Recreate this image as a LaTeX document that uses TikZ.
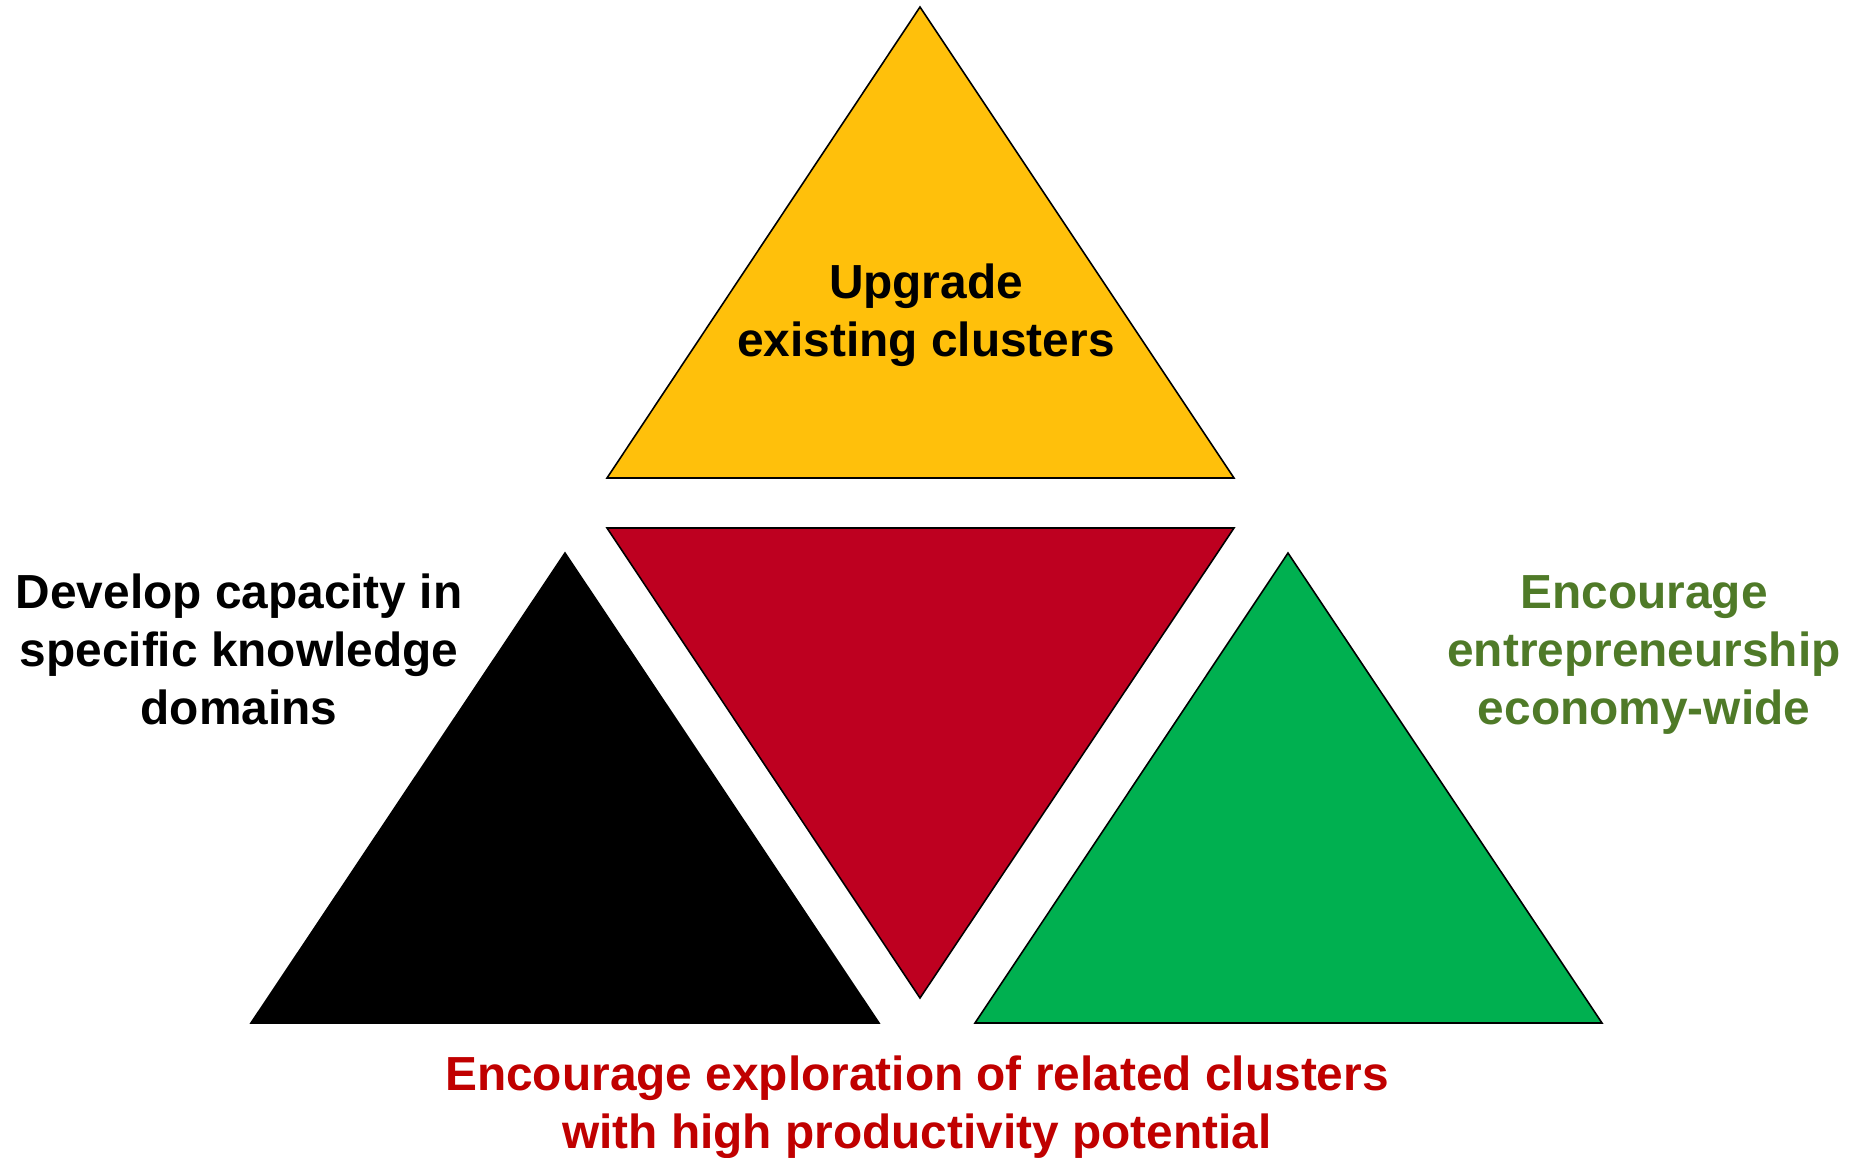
\documentclass[tikz,border=0pt]{standalone}
\usepackage{fontspec}
\setmainfont{Liberation Sans}
\usepackage{tikz}

\definecolor{gold}{RGB}{255,192,11}
\definecolor{crimson}{RGB}{190,0,32}
\definecolor{leaf}{RGB}{0,176,80}
\definecolor{olive}{RGB}{79,122,40}
\definecolor{darkred}{RGB}{192,0,0}

\tikzset{
  tri/.style={draw=black, line width=0.45pt, line join=miter},
  lbl/.style={font=\bfseries\fontsize{13.6pt}{16.4pt}\selectfont, align=center, inner sep=0pt, anchor=base}
}

\begin{document}
\begin{tikzpicture}[x=0.01cm, y=-0.01cm]
        \useasboundingbox (0,0) rectangle (1855,1157);
        
        \filldraw [tri, fill=gold] (920,7) -- (1234,478) -- (607,478) -- cycle;
        \filldraw [tri, fill=crimson] (607,528) -- (1234,528) -- (920,998) -- cycle;
        \filldraw [tri, fill=black] (565,553) -- (879,1023) -- (251,1023) -- cycle;
        \filldraw [tri, fill=leaf] (1288,553) -- (1602,1023) -- (975,1023) -- cycle;
        
        % anchor=base sits on the last line
        \node [lbl] (upgrade) at (926,356) {Upgrade\\existing clusters};
        \node [lbl] (capacity) at (239,724) {Develop capacity in\\specific knowledge\\domains};
        \node [lbl, text=olive] (entre) at (1644,724) {Encourage\\entrepreneurship\\economy-wide};
        \node [lbl, text=darkred] (explore) at (917,1148) {Encourage exploration of related clusters\\with high productivity potential};
\end{tikzpicture}
\end{document}
